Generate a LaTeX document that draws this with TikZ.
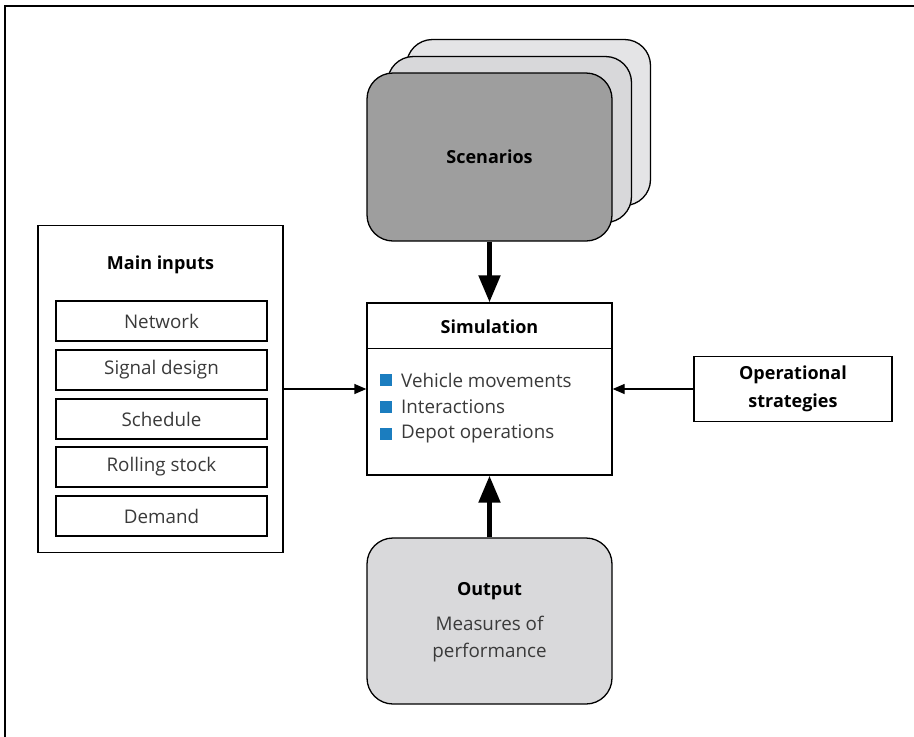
\documentclass[tikz,border=0pt]{standalone}
\usepackage{fontspec}
\setmainfont{Open Sans}
\usetikzlibrary{arrows.meta}
\definecolor{txtgrey}{HTML}{3A3A3A}
\definecolor{scenfront}{HTML}{9E9E9E}
\definecolor{scenmidfill}{HTML}{D8D8DA}
\definecolor{scenbackfill}{HTML}{E4E4E6}
\definecolor{outfill}{HTML}{D9D9DB}
\definecolor{bulletblue}{HTML}{1B7DBF}
\begin{document}
\begin{tikzpicture}[x=1pt,y=-1pt,
  every node/.style={font=\fontsize{18.8}{23}\selectfont, text=txtgrey},
  boxline/.style={draw=black, line width=1.3pt},
  plainbox/.style={boxline, rectangle, inner sep=0pt, fill=white},
  roundbox/.style={boxline, rectangle, rounded corners=26pt, inner sep=0pt,
                   minimum width=244pt, minimum height=166pt},
  itembox/.style={plainbox, minimum width=211pt, minimum height=40pt},
  heading/.style={font=\fontsize{18}{23}\selectfont\bfseries, text=black},
  bulletsq/.style={rectangle, fill=bulletblue, minimum size=12pt, inner sep=0pt},
  thinarrow/.style={draw=black, line width=1.3pt, -{Triangle[length=12pt,width=10pt]}},
  thickarrow/.style={draw=black, line width=5pt, -{Triangle[length=27pt,width=21pt]}}
]
\useasboundingbox (0,0) rectangle (914,737);

% open frame along the top and left edges
\draw[line width=2pt, black] (5,737) -- (5,6) -- (914,6);

% stacked scenario cards
\node[roundbox, fill=scenbackfill] (scenback) at (528.5,122.5) {};
\node[roundbox, fill=scenmidfill] (scenmid) at (509.5,139.5) {};
\node[roundbox, fill=scenfront, minimum width=245pt, minimum height=168pt] (scen) at (489.5,157) {};
\node[heading] (scentitle) at (scen.center) {Scenarios};

% simulation block
\node[plainbox, minimum width=245pt, minimum height=172pt] (sim) at (489.5,389) {};
\coordinate (simdivl) at ([yshift=-46pt]sim.north west);
\coordinate (simdivr) at ([yshift=-46pt]sim.north east);
\draw[boxline] (simdivl) -- (simdivr);
\node[heading] (simtitle) at (489.5,327) {Simulation};
\node[bulletsq] (b1) at (386,380) {};
\node[bulletsq] (b2) at (386,407) {};
\node[bulletsq] (b3) at (386,434) {};
\node[anchor=west, inner sep=0pt] (t1) at (401,380) {Vehicle movements};
\node[anchor=west, inner sep=0pt] (t2) at (401,407) {Interactions};
\node[anchor=west, inner sep=0pt] (t3) at (401,434) {Depot operations};

% main inputs panel
\node[plainbox, minimum width=245pt, minimum height=327pt] (inputs) at (160.5,389) {};
\node[heading] (inputstitle) at (160.5,265) {Main inputs};
\node[itembox] (net) at (161.5,321) {Network};
\node[itembox] (sig) at (161.5,370) {Signal design};
\node[itembox] (sched) at (161.5,419) {Schedule};
\node[itembox] (roll) at (161.5,467) {Rolling stock};
\node[itembox] (demand) at (161.5,516) {Demand};

% operational strategies
\node[plainbox, minimum width=198pt, minimum height=65pt, heading, align=center,
      font=\fontsize{18}{28}\selectfont\bfseries] (ops) at (793,389) {Operational\\strategies};

% output card
\node[roundbox, fill=outfill, minimum width=245pt, minimum height=166pt] (out) at (489.5,621) {};
\node[heading] (outtitle) at (489.5,591) {Output};
\node[align=center, font=\fontsize{18.8}{27}\selectfont] (outtext) at (489.5,639) {Measures of\\performance};

% connectors
\draw[thickarrow] (scen.south) -- (sim.north);
\draw[thickarrow] (out.north) -- (sim.south);
\draw[thinarrow] (inputs.east) -- (inputs.east -| sim.west);
\draw[thinarrow] (ops.west) -- (ops.west -| sim.east);
\end{tikzpicture}
\end{document}
